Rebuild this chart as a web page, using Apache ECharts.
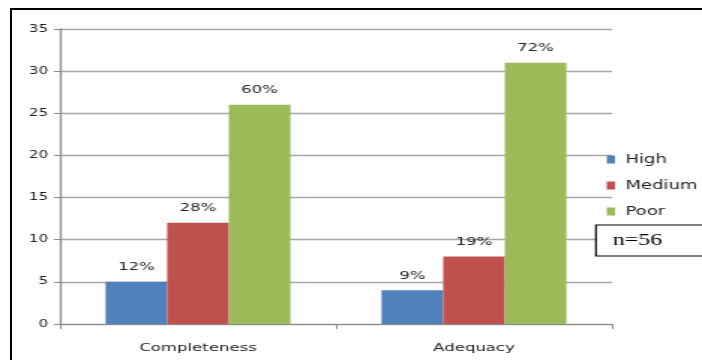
<!DOCTYPE html>
<html><head><meta charset="utf-8">
<script src="https://cdn.jsdelivr.net/npm/echarts@6/dist/echarts.min.js"></script>
<style>
html,body{margin:0;padding:0;background:#fff;overflow:hidden;}
#frame{position:absolute;left:10px;top:8px;width:720px;height:400px;border:2px solid #000;box-sizing:border-box;}
#chart{position:absolute;left:0;top:0;width:468px;height:360px;transform:scaleX(1.5);transform-origin:0 0;}
</style></head>
<body>
<div id="frame"></div>
<div id="chart"></div>
<script>
var categories = ['Completeness', 'Adequacy'];
var seriesNames = ['High', 'Medium', 'Poor'];
var highValues = [5, 4];
var mediumValues = [12, 8];
var poorValues = [26, 31];
var highLabels = ['12%', '9%'];
var mediumLabels = ['28%', '19%'];
var poorLabels = ['60%', '72%'];
var yTicks = [0, 5, 10, 15, 20, 25, 30, 35];
var sampleNote = 'n=56';

var colors = ['#4F81BD', '#C0504D', '#9BBB59'];
var valuesList = [highValues, mediumValues, poorValues];
var labelsList = [highLabels, mediumLabels, poorLabels];

var chart = echarts.init(document.getElementById('chart'), null, {renderer: 'canvas'});
var option = {
  animation: false,
  textStyle: {fontFamily: 'DejaVu Sans'},
  grid: {left: 40, right: 60, top: 29, bottom: 36},
  legend: {
    orient: 'vertical',
    left: 404.5,
    top: 153.5,
    padding: 0,
    itemWidth: 5.5,
    itemHeight: 8,
    itemGap: 14,
    icon: 'rect',
    data: seriesNames,
    textStyle: {fontFamily: 'DejaVu Sans', fontSize: 12, color: '#222', padding: [0, 0, 0, 2]}
  },
  xAxis: {
    type: 'category',
    data: categories,
    axisLine: {lineStyle: {color: '#8a8a8a', width: 1}},
    axisTick: {show: true, length: 5, lineStyle: {color: '#8a8a8a'}},
    axisLabel: {fontFamily: 'DejaVu Sans', fontSize: 11, color: '#222', margin: 19}
  },
  yAxis: {
    type: 'value',
    min: yTicks[0],
    max: yTicks[yTicks.length - 1],
    interval: yTicks[1] - yTicks[0],
    axisLine: {show: true, lineStyle: {color: '#8a8a8a', width: 1.3}},
    axisTick: {show: true, length: 4, lineStyle: {color: '#8a8a8a'}},
    splitLine: {lineStyle: {color: '#a6a6a6', width: 1.3}},
    axisLabel: {fontFamily: 'DejaVu Sans', fontSize: 10, color: '#222', margin: 8}
  },
  graphic: [
    {type: 'rect', shape: {x: 397.3, y: 225, width: 80, height: 31},
     style: {fill: '#fff', stroke: '#000', lineWidth: 1.2}, z: 100},
    {type: 'text', x: 408.5, y: 240.5,
     style: {text: sampleNote, font: '16px "Liberation Serif"', fill: '#000', textVerticalAlign: 'middle'}, z: 101}
  ],
  series: seriesNames.map(function (name, i) {
    return {
      name: name,
      type: 'bar',
      data: valuesList[i],
      barGap: '0%',
      barCategoryGap: '33%',
      itemStyle: {color: colors[i]},
      label: {
        show: true,
        position: 'top',
        distance: 9,
        fontFamily: 'DejaVu Sans',
        fontSize: 11,
        color: '#222',
        formatter: (function (arr) { return function (p) { return arr[p.dataIndex]; }; })(labelsList[i])
      }
    };
  })
};
chart.setOption(option);
</script>
</body></html>
